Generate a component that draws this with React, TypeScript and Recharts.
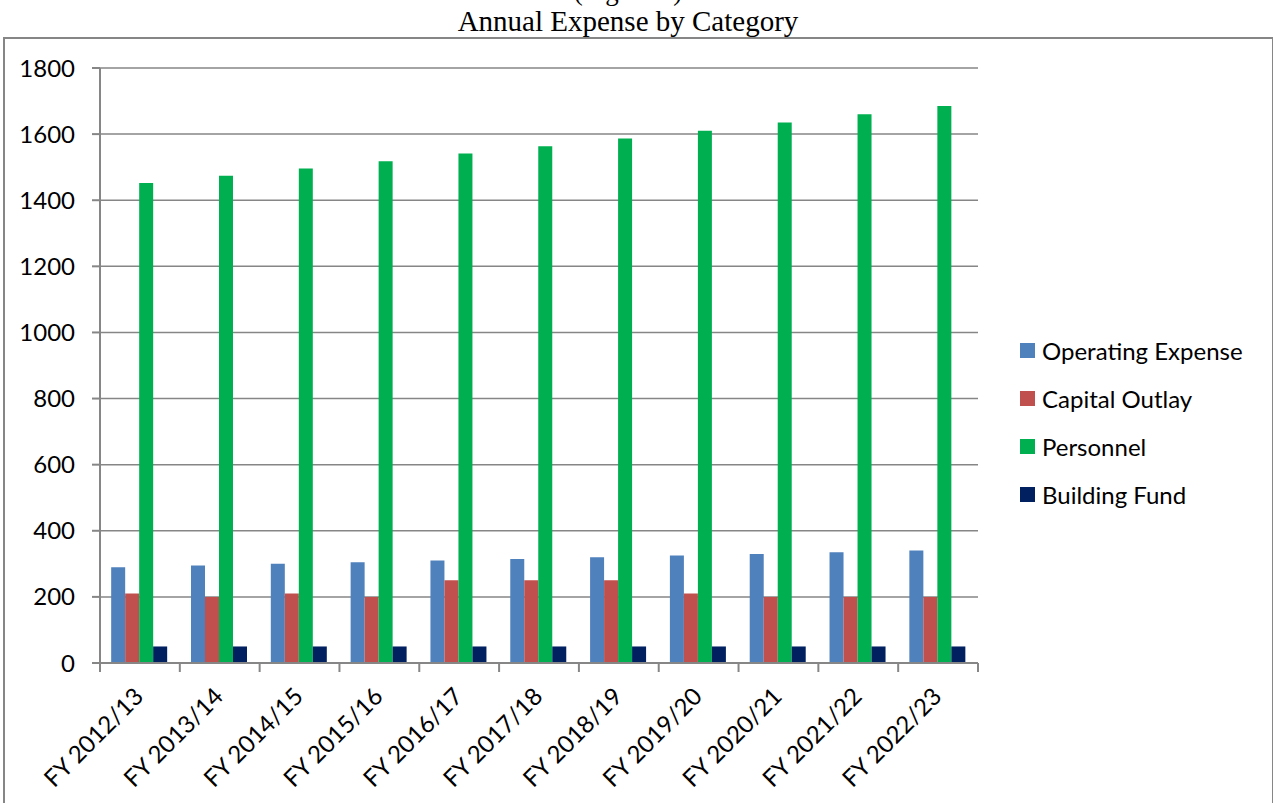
import React from 'react';
import { BarChart, Bar, XAxis, YAxis, CartesianGrid, Legend } from 'recharts';

// Fiscal years shown along the category axis
const fiscalYears = [
  'FY 2012/13', 'FY 2013/14', 'FY 2014/15', 'FY 2015/16', 'FY 2016/17', 'FY 2017/18',
  'FY 2018/19', 'FY 2019/20', 'FY 2020/21', 'FY 2021/22', 'FY 2022/23',
];

// Expense by category for each fiscal year
const operatingExpense = [290, 295, 300, 305, 310, 315, 320, 325, 330, 335, 340];
const capitalOutlay = [210, 200, 210, 200, 250, 250, 250, 210, 200, 200, 200];
const personnel = [1452, 1474, 1496, 1518, 1541, 1563, 1587, 1610, 1635, 1660, 1685];
const buildingFund = [50, 50, 50, 50, 50, 50, 50, 50, 50, 50, 50];

const yTicks = [0, 200, 400, 600, 800, 1000, 1200, 1400, 1600, 1800];

const seriesList = [
  { key: 'operating', name: 'Operating Expense', color: '#4F81BD' },
  { key: 'capital', name: 'Capital Outlay', color: '#C0504D' },
  { key: 'personnel', name: 'Personnel', color: '#00B050' },
  { key: 'building', name: 'Building Fund', color: '#002060' },
];

const data = fiscalYears.map((fy, i) => ({
  fy,
  operating: operatingExpense[i],
  capital: capitalOutlay[i],
  personnel: personnel[i],
  building: buildingFund[i],
}));

const AXIS_GRAY = '#868686';
const FONT = 'Lato, "Open Sans", sans-serif';
const FONT_SIZE = 24;

const CHART_W = 1273;
const CHART_H = 803;
const MARGIN = { top: 68, right: 295, bottom: 40, left: 0 };
const Y_AXIS_W = 100;
const PLOT_W = CHART_W - MARGIN.left - MARGIN.right - Y_AXIS_W;

// Category tick: tick marks sit on the boundaries between categories,
// labels are rotated and end just right of the category centre.
const CategoryTick = (props: any) => {
  const { x, y, payload, index } = props;
  const half = payload && typeof payload.offset === 'number' && payload.offset > 0
    ? payload.offset
    : PLOT_W / fiscalYears.length / 2;
  const isLast = index === fiscalYears.length - 1;
  const ax = x + 5;
  const ay = y + 35;
  return (
    <g>
      <line x1={x - half} y1={y} x2={x - half} y2={y + 9} stroke={AXIS_GRAY} strokeWidth={2} />
      {isLast && (
        <line x1={x + half} y1={y} x2={x + half} y2={y + 9} stroke={AXIS_GRAY} strokeWidth={2} />
      )}
      <text
        x={ax}
        y={ay}
        textAnchor="end"
        transform={`rotate(-45 ${ax} ${ay})`}
        fontFamily={FONT}
        fontSize={FONT_SIZE}
        fill="#000"
      >
        {payload.value}
      </text>
    </g>
  );
};

const LegendBox = () => (
  <div style={{ fontFamily: FONT, fontSize: FONT_SIZE, color: '#000' }}>
    {seriesList.map((s) => (
      <div key={s.key} style={{ display: 'flex', alignItems: 'center', height: 48 }}>
        <span style={{ display: 'inline-block', width: 15, height: 15, background: s.color, marginRight: 7 }} />
        <span>{s.name}</span>
      </div>
    ))}
  </div>
);

export default function App() {
  return (
    <div style={{ position: 'absolute', left: 0, top: 0, width: CHART_W, height: CHART_H, overflow: 'hidden', background: '#fff' }}>
      <svg width={CHART_W} height={CHART_H} style={{ position: 'absolute', left: 0, top: 0 }}>
        <text x={628} y={0} textAnchor="middle" fontFamily='"Liberation Serif", "Times New Roman", serif' fontSize={27} fill="#000">
          (Figure 2)
        </text>
        <text x={628} y={31} textAnchor="middle" fontFamily='"Liberation Serif", "Times New Roman", serif' fontSize={29} fill="#000">
          Annual Expense by Category
        </text>
      </svg>
      <div
        style={{
          position: 'absolute', left: 3, top: 37, width: 1267, height: 800,
          borderLeft: `2px solid ${AXIS_GRAY}`, borderTop: `2px solid ${AXIS_GRAY}`, borderRight: `2px solid ${AXIS_GRAY}`,
        }}
      />
      <div style={{ position: 'absolute', left: 0, top: 0 }}>
        <BarChart
          width={CHART_W}
          height={CHART_H}
          data={data}
          margin={MARGIN}
          barCategoryGap="14%"
          barGap={0}
        >
          <CartesianGrid vertical={false} stroke={AXIS_GRAY} strokeWidth={1.5} />
          <XAxis
            dataKey="fy"
            height={100}
            interval={0}
            tickLine={false}
            tickSize={0}
            tickMargin={0}
            axisLine={{ stroke: AXIS_GRAY, strokeWidth: 2 }}
            tick={<CategoryTick />}
          />
          <YAxis
            width={Y_AXIS_W}
            domain={[0, 1800]}
            ticks={yTicks}
            interval={0}
            tickSize={8}
            tickMargin={17}
            tickLine={{ stroke: AXIS_GRAY, strokeWidth: 2 }}
            axisLine={{ stroke: AXIS_GRAY, strokeWidth: 2 }}
            tick={{ fontFamily: FONT, fontSize: FONT_SIZE, fill: '#000' }}
          />
          <Legend
            layout="vertical"
            align="center"
            verticalAlign="middle"
            content={<LegendBox />}
            wrapperStyle={{ left: 1020, top: 326, width: 250 }}
          />
          {seriesList.map((s) => (
            <Bar key={s.key} dataKey={s.key} name={s.name} fill={s.color} isAnimationActive={false} />
          ))}
        </BarChart>
      </div>
    </div>
  );
}
